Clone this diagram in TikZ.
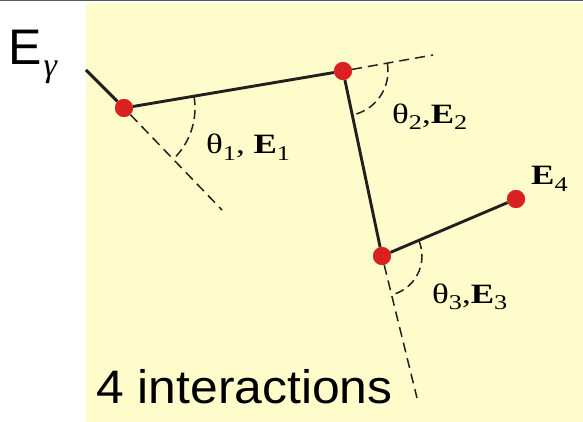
\documentclass[tikz,border=0pt]{standalone}
\usepackage{fontspec}
\setmainfont{Liberation Sans}
\newfontfamily\serifgr{Liberation Serif}
\newcommand{\lowsub}[1]{\raisebox{-6pt}{\fontsize{21}{21}\selectfont #1}}
\definecolor{bgyellow}{RGB}{255,252,204}
\definecolor{dotred}{RGB}{218,33,33}
\definecolor{ink}{RGB}{35,31,32}
\begin{document}
\begin{tikzpicture}[x=1pt,y=-1pt,
  dot/.style={circle,fill=dotred,minimum size=18pt,inner sep=0pt},
  track/.style={draw=ink,line width=2.9pt},
  ext/.style={draw=ink,line width=1.5pt,dash pattern=on 10pt off 6pt},
  anglearc/.style={draw=ink,line width=1.5pt,dash pattern=on 9pt off 5pt},
  lbl/.style={anchor=base west,inner sep=0pt},
  big/.style={anchor=base west,inner sep=0pt}]
\useasboundingbox (0,0) rectangle (583,422);
\fill[bgyellow] (86,3) rectangle (583,422);
\draw[gray!70!black,line width=1.5pt] (0,0.75) -- (583,0.75);
% interaction points
\node[dot] (p1) at (124,108) {};
\node[dot] (p2) at (343,71) {};
\node[dot] (p3) at (382,256) {};
\node[dot] (p4) at (516,199) {};
\coordinate (src) at (86,70);
\coordinate (d1) at (222,210);
\coordinate (d2) at (433,55);
\coordinate (d3) at (417,398);
% track
\draw[track] (src) -- (p1);
\draw[track] (p1) -- (p2);
\draw[track] (p2) -- (p3);
\draw[track] (p3) -- (p4);
% extensions
\draw[ext] (p1) -- (d1);
\draw[ext] (p2) -- (d2);
\draw[ext] (p3) -- (d3);
% angle arcs
\draw[anglearc] ([shift={(-9.6:71)}]p1.center) arc[start angle=-9.6,end angle=46.1,radius=71];
\draw[anglearc] ([shift={(-10.1:45)}]p2.center) arc[start angle=-10.1,end angle=78.1,radius=45];
\draw[anglearc] ([shift={(-23:40)}]p3.center) arc[start angle=-23,end angle=76.2,radius=40];
% redraw dots on top
\fill[dotred] (p1) circle[radius=9];
\fill[dotred] (p2) circle[radius=9];
\fill[dotred] (p3) circle[radius=9];
\fill[dotred] (p4) circle[radius=9];
% labels
\node[lbl] (l1) at (206,154) {\scalebox{1.25}[1]{\serifgr\fontsize{28}{28}\selectfont θ\lowsub{1}, {\bfseries E}\lowsub{1}}};
\node[lbl] (l2) at (392,124) {\scalebox{1.25}[1]{\serifgr\fontsize{28}{28}\selectfont θ\lowsub{2},{\bfseries E}\lowsub{2}}};
\node[lbl] (l3) at (432,303) {\scalebox{1.25}[1]{\serifgr\fontsize{28}{28}\selectfont θ\lowsub{3},{\bfseries E}\lowsub{3}}};
\node[lbl] (l4) at (531,185) {\scalebox{1.25}[1]{\serifgr\fontsize{28}{28}\selectfont {\bfseries E}\lowsub{4}}};
\node[big] (eg) at (8,65) {\fontsize{50}{50}\selectfont E\hspace{2pt}\raisebox{-12pt}{\serifgr\itshape\fontsize{34}{34}\selectfont γ}};
\node[big] (ni) at (96,403) {\scalebox{1.06}[1]{\fontsize{47}{47}\selectfont 4 interactions}};
\end{tikzpicture}
\end{document}
